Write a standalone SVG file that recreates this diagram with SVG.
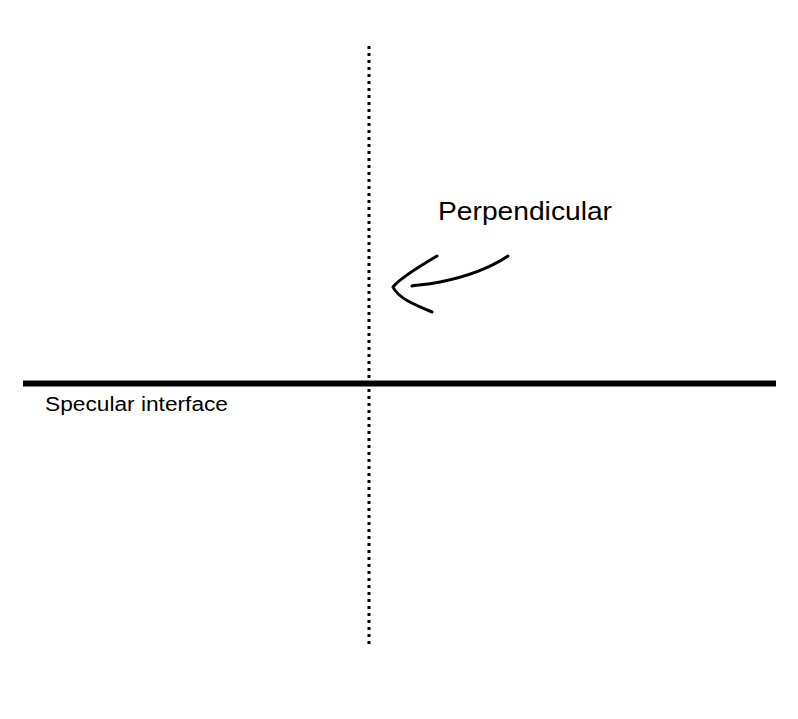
<svg xmlns="http://www.w3.org/2000/svg" width="798" height="719" viewBox="0 0 798 719">
<style>
.lbl{font-family:"Liberation Sans",Arial,sans-serif;fill:#000}
.ink{fill:none;stroke:#000;stroke-linecap:round;stroke-linejoin:round}
</style>
<rect width="798" height="719" fill="#fff"/>
<g id="connectors">
<line id="perpendicular-line" x1="369" y1="46" x2="369" y2="644" stroke="#000" stroke-width="3" stroke-dasharray="3 4"/>
<line id="interface-line" x1="23" y1="383.5" x2="776" y2="383.5" stroke="#000" stroke-width="6"/>
<path id="arrow-shaft" class="ink" stroke-width="3" d="M508,256 C490,268 470,276 440,282 C425,285 415,285 412,286"/>
<path id="arrow-head" class="ink" stroke-width="3" d="M437,256 C420,266 400,278 393,287 C398,298 415,305 432,312"/>
</g>
<g id="node-specular"><text class="lbl" x="45" y="411" font-size="20" textLength="183" lengthAdjust="spacingAndGlyphs">Specular interface</text></g>
<g id="node-perpendicular"><text class="lbl" x="438" y="220" font-size="25" textLength="174" lengthAdjust="spacingAndGlyphs">Perpendicular</text></g>
</svg>
